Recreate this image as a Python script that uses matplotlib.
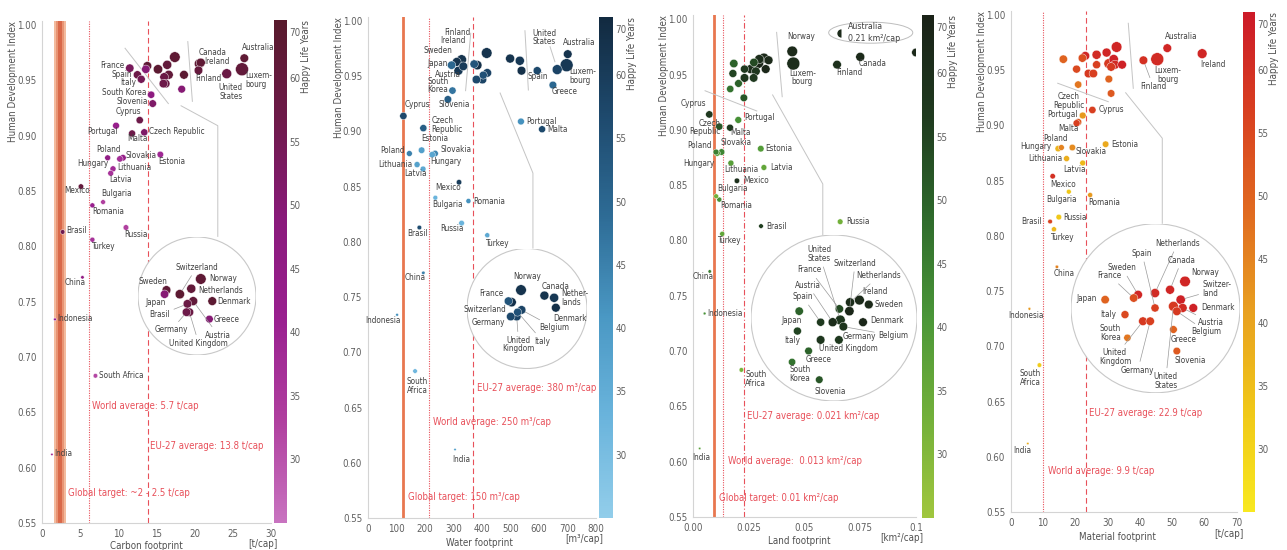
import matplotlib
matplotlib.use('Agg')
import matplotlib.pyplot as plt
import numpy as np
from matplotlib import font_manager
from matplotlib.colors import LinearSegmentedColormap, Normalize
from matplotlib.cm import ScalarMappable
from matplotlib.patches import Circle, Ellipse

W, H = 1287, 550

# narrow font if there is one
fonts = font_manager.fontManager.ttflist
if any(f.name == 'Liberation Sans Narrow' for f in fonts):
    plt.rcParams['font.family'] = 'Liberation Sans Narrow'
elif any(f.name == 'DejaVu Sans' and f.stretch == 'condensed' for f in fonts):
    plt.rcParams['font.family'] = 'DejaVu Sans'
    plt.rcParams['font.stretch'] = 'condensed'
else:
    plt.rcParams['font.family'] = 'Liberation Sans'

# ---- data -------------------------------------------------------------
countries = ['Australia', 'Austria', 'Belgium', 'Brasil', 'Bulgaria', 'Canada', 'China',
             'Cyprus', 'Czech Republic', 'Denmark', 'Estonia', 'Finland', 'France', 'Germany',
             'Greece', 'Hungary', 'India', 'Indonesia', 'Ireland', 'Italy', 'Japan', 'Latvia',
             'Lithuania', 'Luxembourg', 'Malta', 'Mexico', 'Netherlands', 'Norway', 'Poland',
             'Portugal', 'Romania', 'Russia', 'Slovakia', 'Slovenia', 'South Africa',
             'South Korea', 'Spain', 'Sweden', 'Switzerland', 'Turkey', 'United Kingdom',
             'United States']
hdi = [0.970, 0.955, 0.953, 0.813, 0.840, 0.966, 0.772, 0.914, 0.903, 0.955, 0.883, 0.959,
       0.961, 0.947, 0.942, 0.879, 0.612, 0.734, 0.965, 0.951, 0.960, 0.866, 0.870, 0.960,
       0.902, 0.854, 0.964, 0.971, 0.880, 0.909, 0.837, 0.817, 0.880, 0.929, 0.683, 0.937,
       0.955, 0.963, 0.960, 0.806, 0.947, 0.956]
happy_life_years = [62, 61, 58, 56, 33, 62, 45, 57, 52, 63, 39, 60, 54, 57, 50, 37, 38, 42, 62,
                    55, 50, 36, 38, 61, 57, 60, 61, 62, 45, 42, 42, 33, 44, 52, 32, 47, 57, 62,
                    63, 36, 58, 58]
gdp_per_cap = [35, 38, 35, 10, 11, 38, 5.5, 25, 24, 36, 20, 35, 33, 34, 28, 19, 2.7, 3.7, 45,
               30, 33, 16, 17, 79, 23, 14, 39, 53, 16, 22, 12, 15, 20, 27, 9.8, 25, 31, 36, 41,
               12, 35, 46]
carbon = [26.5, 16.6, 16.0, 2.7, 8.0, 20.8, 5.3, 12.8, 13.4, 18.6, 15.5, 20.5, 11.5, 15.9,
          18.3, 10.2, 1.3, 1.7, 20.6, 13.0, 13.6, 9.0, 9.3, 26.2, 11.8, 5.1, 16.4, 17.4, 8.6,
          9.7, 6.6, 11.0, 10.6, 14.5, 7.0, 14.3, 12.5, 13.8, 15.2, 6.6, 16.2, 24.2]
water = [701, 318, 419, 181, 237, 499, 195, 125, 195, 539, 189, 335, 373, 381, 649, 226, 306,
         103, 329, 405, 294, 194, 173, 697, 611, 320, 533, 417, 146, 537, 353, 329, 236, 281,
         166, 297, 594, 312, 384, 419, 402, 664]
land = [0.21, 0.0258, 0.0282, 0.0305, 0.0104, 0.075, 0.0075, 0.0073, 0.0118, 0.0326, 0.0304,
        0.0646, 0.0273, 0.0272, 0.0204, 0.0108, 0.0030, 0.0052, 0.0318, 0.0179, 0.0183, 0.0318,
        0.0170, 0.0450, 0.0166, 0.0197, 0.0297, 0.0445, 0.0103, 0.0203, 0.0118, 0.066, 0.0128,
        0.0228, 0.0217, 0.0167, 0.0231, 0.0339, 0.02955, 0.0131, 0.0231, 0.0275]
material = [48.5, 32.3, 31.1, 12.2, 18.0, 29.7, 14.3, 25.3, 20.9, 34.5, 29.4, 41.1, 22.2, 25.6,
            30.4, 14.7, 5.3, 5.8, 59.3, 20.4, 16.3, 22.3, 17.3, 45.4, 20.4, 13.0, 26.6, 32.8,
            15.7, 22.3, 24.6, 14.9, 19.1, 31.1, 8.9, 20.9, 26.6, 23.1, 31.9, 13.4, 24.1, 30.4]

RED = '#e8505a'
ORANGE = '#e8774f'
LBL = '#404040'
TICK = '#606060'
FS_LBL = 5.9
FS_TICK = 7.0

cmaps = [
    LinearSegmentedColormap.from_list('p', ['#c873c0', '#b0409f', '#9a2090', '#8a1a7c', '#6e1a4a', '#581a2c']),
    LinearSegmentedColormap.from_list('b', ['#92cdea', '#6ab4dc', '#4a98c4', '#2e6c96', '#1e4a6e', '#122a40']),
    LinearSegmentedColormap.from_list('g', ['#a0c63e', '#72b03a', '#4a9638', '#2e6a2c', '#1f3a1f', '#1a2218']),
    LinearSegmentedColormap.from_list('y', ['#f8e820', '#f0c818', '#e8a020', '#e06a20', '#d84020', '#cc1a28']),
]
norm = Normalize(25, 64.6)

# ---- per panel layout ---------------------------------------------------
panels = [
    dict(x=carbon, xmax=30, xticks=[0, 5, 10, 15, 20, 25, 30], xticklabels=None,
         xlabel='Carbon footprint', xlabel_pos=(146, 546), unit='[t/cap]', unit_pos=(278, 544),
         box=(42, 271, 25, 523), cbar=(274, 287, 20, 523),
         band=(1.6, 3.1), target=None, world=6.2, eu=13.9, eu_style=(0, (5, 3)),
         notes=[('World average: 5.7 t/cap', 6.55, 0.656), ('EU-27 average: 13.8 t/cap', 14.15, 0.620),
                ('Global target: ~2 - 2.5 t/cap', 3.41, 0.5767)],
         guides=[[(10.88, 0.979), (16.55, 0.929)], [(19.10, 0.985), (19.70, 0.931)],
                 [(18.22, 0.927), (23.03, 0.909), (23.03, 0.809)]],
         inset=(197, 296, 59, 1.25, 17.0, 0.9587),
         labels=[('France', '', -5.4, 2.5, 'right'), ('Spain', '', -5.7, 0, 'right'),
                 ('Italy', '', -4.5, -3, 'right'), ('South Korea', '', -4.4, 2.4, 'right'),
                 ('Slovenia', '', -5, 2, 'right'), ('Cyprus', '', 1, 9, 'right'),
                 ('Portugal', '', 2, -5.3, 'right'), ('Malta', '', 5.8, -5.2, 'center'),
                 ('Czech Republic', '', 4.8, 0.7, 'left'), ('Estonia', '', -1.6, -7.2, 'left'),
                 ('Poland', '', 0.7, 7.8, 'center'), ('Slovakia', '', 2.1, 1.8, 'left'),
                 ('Hungary', '', -11.5, -4.4, 'right'), ('Lithuania', '', 4.3, 1.2, 'left'),
                 ('Latvia', '', -1.4, -6.7, 'left'), ('Mexico', '', -4.2, -4.4, 'center'),
                 ('Bulgaria', '', -2, 8.8, 'left'), ('Romania', '', 0.3, -6.6, 'left'),
                 ('Russia', '', -1.6, -6.5, 'left'), ('Brasil', '', 4.1, 1.6, 'left'),
                 ('Turkey', '', -1.7, -7, 'left'), ('China', '', 2.9, -5, 'right'),
                 ('Indonesia', '', 2.3, 0.7, 'left'), ('South Africa', '', 3.3, 0.5, 'left'),
                 ('India', '', 2.1, 0.7, 'left'), ('Canada', '', -1.7, 10.3, 'left'),
                 ('Ireland', '', 5.1, 2, 'left'), ('Finland', '', -3.7, -8.3, 'left'),
                 ('United States', 'United\nStates', 4.2, -18.3, 'center'),
                 ('Luxembourg', 'Luxem-\nbourg', 3.1, -10.9, 'left'),
                 ('Australia', '', -2.2, 10.5, 'left')],
         inset_labels=[('Norway', '', 8, 0.7, 'left', False), ('Switzerland', '', 17, 27, 'center', True),
                       ('Sweden', '', 0.7, 9, 'right', False), ('Japan', '', 1.2, -8, 'right', False),
                       ('Netherlands', '', 7, -2, 'left', False), ('Denmark', '', 5, -0.6, 'left', False),
                       ('Greece', '', 4.5, -0.2, 'left', False), ('Belgium', 'Brasil', -17.6, -11, 'right', True),
                       ('Germany', '', -15, -17.8, 'center', True),
                       ('United Kingdom', '', 9.3, -31, 'center', True),
                       ('Austria', '', 25, -34, 'center', True)]),
    dict(x=water, xmax=800, xticks=list(range(0, 801, 100)), xticklabels=None,
         xlabel='Water footprint', xlabel_pos=(479, 543), unit='[m³/cap]', unit_pos=(603, 539),
         box=(367.7, 596, 21, 518), cbar=(599, 613, 17, 518),
         band=None, target=122.6, world=213.7, eu=367.9, eu_style=(0, (5, 3)),
         notes=[('Global target: 150 m³/cap', 140, 0.569), ('World average: 250 m³/cap', 228, 0.6365),
                ('EU-27 average: 380 m³/cap', 382, 0.668)],
         guides=[[(361, 0.9889), (343, 0.9369)], [(551, 0.9912), (563, 0.9375)],
                 [(639, 0.9767), (656, 0.9631)], [(464, 0.9348), (579, 0.8623), (579, 0.7944)]],
         inset=(527, 308.5, 60, 1.0, 438, 0.9543),
         labels=[('Finland', '', 6.7, 34, 'right'), ('Ireland', '', 4, 19.5, 'right'),
                 ('Sweden', '', -4, 11.5, 'right'), ('Japan', '', -4, 2, 'right'),
                 ('Austria', '', 2, -4, 'right'), ('South Korea', 'South\nKorea', -4, 5, 'right'),
                 ('Slovenia', '', -9, -5, 'left'), ('Cyprus', '', 1, 11, 'left'),
                 ('Czech Republic', 'Czech\nRepublic', 8, 3, 'left'), ('Estonia', '', 0, 11.5, 'left'),
                 ('Poland', '', -5, 3, 'right'), ('Slovakia', '', 5, 4, 'left'),
                 ('Hungary', '', -2, -6.5, 'left'), ('Lithuania', '', -5, 0, 'right'),
                 ('Latvia', '', 4, -5, 'right'), ('Mexico', '', 2, -5, 'right'),
                 ('Bulgaria', '', -3, -7, 'left'), ('Romania', '', 5, 0, 'left'),
                 ('Russia', '', 2, -5, 'right'), ('Brasil', '', -2, -6, 'center'),
                 ('Turkey', '', -2, -8, 'left'), ('China', '', 2, -5, 'right'),
                 ('Indonesia', '', 4, -6, 'right'), ('South Africa', 'South\nAfrica', 2, -15, 'center'),
                 ('India', '', 6, -10, 'center'), ('Portugal', '', 5, 0, 'left'),
                 ('Malta', '', 5, 0, 'left'), ('Spain', '', 1, -6, 'center'),
                 ('Greece', '', 12, -6, 'center'), ('Luxembourg', 'Luxem-\nbourg', 3, -11, 'left'),
                 ('United States', 'United\nStates', -13, 32, 'center'),
                 ('Australia', '', -5, 12, 'left')],
         inset_labels=[('Norway', '', 6, 13.3, 'center', False), ('France', '', -4.5, 7.8, 'right', False),
                       ('Switzerland', '', -4.9, -6.8, 'right', False),
                       ('Germany', '', -5.7, -6.2, 'right', False), ('Canada', '', -2.7, 9.5, 'left', False),
                       ('Netherlands', 'Nether-\nlands', 7.6, -0.3, 'left', False),
                       ('Denmark', '', -3, -10.6, 'left', False), ('Belgium', '', 17.7, -17.8, 'left', True),
                       ('Italy', '', 25, -29, 'center', True),
                       ('United Kingdom', 'United\nKingdom', 2, -28, 'center', True)]),
    dict(x=land, xmax=0.1, xticks=[0, 0.025, 0.05, 0.075, 0.1],
         xticklabels=['0.00', '0.025', '0.05', '0.075', '0.1'],
         xlabel='Land footprint', xlabel_pos=(799, 541), unit='[km²/cap]', unit_pos=(923, 538),
         box=(693, 916, 19.3, 517), cbar=(922, 934, 15, 518),
         band=None, target=0.0094, world=0.0136, eu=0.0227, eu_style=(0, (5, 2, 1, 2)),
         notes=[('EU-27 average: 0.021 km²/cap', 0.0240, 0.6416),
                ('World average:  0.013 km²/cap', 0.0158, 0.6010),
                ('Global target: 0.01 km²/cap', 0.0118, 0.5672)],
         guides=[[(0.0054, 0.9354), (0.0286, 0.9171)], [(0.0375, 0.9882), (0.0400, 0.9300)],
                 [(0.0357, 0.9316), (0.0582, 0.8511), (0.0582, 0.8050)]],
         inset=(834, 318, 83, 2.0, 0.0261, 0.9569),
         labels=[('Norway', '', 9, 15, 'center'), ('Luxembourg', 'Luxem-\nbourg', 9, -14, 'center'),
                 ('Finland', '', -1, -8, 'left'), ('Canada', '', -2, -7, 'left'),
                 ('Cyprus', '', -3, 11, 'right'), ('Czech Republic', 'Czech\nRepublic', 1, -1, 'right'),
                 ('Malta', '', 0, -5, 'left'), ('Portugal', '', 6, 2, 'left'),
                 ('Poland', '', -4, 7, 'right'), ('Slovakia', '', -1, 10, 'left'),
                 ('Hungary', '', -3, -10, 'right'), ('Lithuania', '', -7, -6, 'left'),
                 ('Estonia', '', 4, 0, 'left'), ('Latvia', '', 6, 0, 'left'),
                 ('Mexico', '', 6, 0, 'left'), ('Bulgaria', '', 1.5, 8, 'left'),
                 ('Romania', '', 1, -6, 'left'), ('Brasil', '', 5, 0, 'left'),
                 ('Russia', '', 6, 0, 'left'), ('Turkey', '', -5, -7, 'left'),
                 ('China', '', 4, -5, 'right'), ('Indonesia', '', 3, 0, 'left'),
                 ('South Africa', 'South\nAfrica', 4, -9, 'left'), ('India', '', 2, -9, 'center')],
         inset_labels=[('United States', 'United\nStates', -21, 66, 'center', True),
                       ('France', '', -29.5, 39, 'center', True),
                       ('Switzerland', '', 5.7, 48, 'center', True),
                       ('Netherlands', '', 29, 26.6, 'center', True),
                       ('Ireland', '', 2.4, 9, 'left', False), ('Sweden', '', 6, 0, 'left', False),
                       ('Denmark', '', 7, 1.6, 'left', False), ('Belgium', '', 35, -9, 'left', True),
                       ('Germany', '', 4, 3, 'left', False), ('United Kingdom', '', -1.5, -9, 'left', False),
                       ('Austria', '', -24.7, 37, 'center', True), ('Spain', '', -18, 25.6, 'center', True),
                       ('Japan', '', -7.4, -9, 'center', False), ('Italy', '', -5.6, -9, 'center', False),
                       ('Greece', '', 10, -8.4, 'center', False),
                       ('South Korea', 'South\nKorea', 8, -12, 'center', False),
                       ('Slovenia', '', 10.6, -11.3, 'center', False)]),
    dict(x=material, xmax=70, xticks=list(range(0, 71, 10)), xticklabels=None,
         xlabel='Material footprint', xlabel_pos=(1117, 537), unit='[t/cap]', unit_pos=(1244, 534),
         box=(1010.7, 1236.7, 15, 512), cbar=(1243, 1255, 12, 512),
         band=None, target=None, world=10.1, eu=23.2, eu_style=(0, (5, 3)),
         notes=[('EU-27 average: 22.9 t/cap', 24.2, 0.640), ('World average: 9.9 t/cap', 11.4, 0.587)],
         guides=[[(14.56, 0.9382), (30.23, 0.9215)], [(36.42, 0.9925), (37.97, 0.9336)],
                 [(35.61, 0.9296), (46.95, 0.8884), (46.95, 0.8114)]],
         inset=(1155.5, 308.3, 84.5, 1.5, 26.7, 0.9548),
         labels=[('Australia', '', -2, 11.4, 'left'), ('Ireland', '', -1.5, -10.6, 'left'),
                 ('Luxembourg', 'Luxem-\nbourg', 10.7, -15.6, 'center'),
                 ('Finland', '', -3.4, -26, 'left'),
                 ('Czech Republic', 'Czech\nRepublic', -9.4, 21, 'center'),
                 ('Cyprus', '', 6, 0, 'left'), ('Portugal', '', -5.4, 1, 'right'),
                 ('Malta', '', -8, -5, 'center'), ('Poland', '', -5.6, 9, 'center'),
                 ('Hungary', '', -6.5, 2, 'right'), ('Slovakia', '', 3, -3.5, 'left'),
                 ('Lithuania', '', -4, 0, 'right'), ('Latvia', '', -8, -7, 'center'),
                 ('Estonia', '', 6, 0, 'left'), ('Mexico', '', 10, -7.8, 'center'),
                 ('Bulgaria', '', -7, -7.3, 'center'), ('Romania', '', -2, -7.7, 'left'),
                 ('Russia', '', 4, 0, 'left'), ('Brasil', '', -8, 0, 'right'),
                 ('Turkey', '', 8, -8.4, 'center'), ('China', '', 7, -7, 'center'),
                 ('Indonesia', '', -3, -7, 'center'), ('South Africa', 'South\nAfrica', -9, -13, 'center'),
                 ('India', '', -6, -7, 'center')],
         inset_labels=[('Netherlands', '', 22.6, 49.8, 'center', True), ('Spain', '', -13, 54.7, 'center', True),
                       ('Canada', '', 11.7, 29.7, 'center', True), ('Sweden', '', -16, 27, 'center', True),
                       ('France', '', -24, 22.4, 'center', True), ('Norway', '', 6, 9, 'left', False),
                       ('Switzerland', 'Switzer-\nland', 22, 10.5, 'left', True),
                       ('Denmark', '', 8, 0, 'left', False), ('Japan', '', -8, 1.4, 'right', False),
                       ('Italy', '', -8.4, 0, 'right', False),
                       ('South Korea', 'South\nKorea', -6.5, 4.5, 'right', False),
                       ('United Kingdom', 'United\nKingdom', -28, -35.8, 'center', True),
                       ('Germany', '', -12.3, -48.8, 'center', True),
                       ('United States', 'United\nStates', -7.8, -74.5, 'center', True),
                       ('Austria', '', 15.6, -14.7, 'left', True), ('Belgium', '', 14.8, -20.4, 'left', True),
                       ('Greece', '', 10.4, -9.7, 'center', False),
                       ('Slovenia', '', 13.4, -9.7, 'center', False)]),
]


def rect(x0, top, x1, bottom):
    return [x0 / W, 1 - bottom / H, (x1 - x0) / W, (bottom - top) / H]


def label(ax, xy, text, dx, dy, ha, leader=False):
    kw = dict(xy=xy, xytext=(dx, dy), textcoords='offset pixels', ha=ha, va='center',
              fontsize=FS_LBL, color=LBL, linespacing=0.95, zorder=6)
    if leader:
        kw['arrowprops'] = dict(arrowstyle='-', color='#9a9a9a', lw=0.5, shrinkA=1, shrinkB=3)
    ax.annotate(text, **kw)


fig = plt.figure(figsize=(W / 100, H / 100), dpi=100)
fig.patch.set_facecolor('white')

hdi_a = np.array(hdi)
hly_a = np.array(happy_life_years)
size_a = 1.1 * np.array(gdp_per_cap)
order = np.argsort(-size_a)
idx = {c: i for i, c in enumerate(countries)}
YTOP = 1.004

for p, cmap in zip(panels, cmaps):
    x0, x1, y100, y055 = p['box']
    sx = (x1 - x0) / p['xmax']
    sy = (y055 - y100) / 0.45
    top = y100 - (YTOP - 1) * sy
    ax = fig.add_axes(rect(x0, top, x1, y055))
    ax.set_xlim(0, p['xmax'])
    ax.set_ylim(0.55, YTOP)
    for s in ['top', 'right']:
        ax.spines[s].set_visible(False)
    for s in ['left', 'bottom']:
        ax.spines[s].set_color('#d4d4d4')
        ax.spines[s].set_linewidth(0.8)
    ax.set_yticks(np.arange(0.55, 1.001, 0.05))
    ax.set_yticklabels(['%.2f' % v for v in np.arange(0.55, 1.001, 0.05)])
    ax.set_xticks(p['xticks'])
    if p['xticklabels']:
        ax.set_xticklabels(p['xticklabels'])
    ax.tick_params(length=0, labelsize=FS_TICK, colors=TICK, pad=4)

    # reference lines
    if p['band']:
        a, b = p['band']
        w = b - a
        ax.axvspan(a, b, color='#f3bb9e', lw=0, zorder=1)
        ax.axvspan(a + 0.18 * w, b - 0.18 * w, color='#e89474', lw=0, zorder=1)
        ax.axvspan(a + 0.35 * w, b - 0.35 * w, color='#d9694a', lw=0, zorder=1)
    if p['target'] is not None:
        ax.axvline(p['target'], color=ORANGE, lw=2, zorder=1)
    ax.axvline(p['world'], color=RED, lw=0.8, ls=(0, (1, 1.2)), zorder=1)
    ax.axvline(p['eu'], color=RED, lw=0.8, ls=p['eu_style'], zorder=1)
    for t, tx, ty in p['notes']:
        ax.text(tx, ty, t, color=RED, fontsize=6.9, va='center', ha='left', zorder=2)
    for g in p['guides']:
        gx, gy = zip(*g)
        ax.plot(gx, gy, color='#c4c4c4', lw=0.7, zorder=1)

    xs = np.minimum(np.array(p['x']), p['xmax'])
    ax.scatter(xs[order], hdi_a[order], s=size_a[order], c=hly_a[order], cmap=cmap, norm=norm,
               edgecolors='white', linewidths=0.3, zorder=4)

    for c, txt, dx, dy, ha in p['labels']:
        i = idx[c]
        label(ax, (xs[i], hdi[i]), txt or c, dx, dy, ha, leader=(c == 'Finland' and p['xmax'] == 70))

    # Australia call-out in the land panel
    if p['xmax'] == 0.1:
        i = idx['Australia']
        ax.add_patch(Ellipse((0.0797, 0.9879), 0.0377, 0.019, fc='white', ec='#bdbdbd', lw=0.7, zorder=5))
        ax.plot(0.0664, 0.9879, marker='o', ms=6, fillstyle='left',
                color=cmap(norm(happy_life_years[i])), mec='none', zorder=6)
        ax.text(0.0695, 0.9935, 'Australia', fontsize=6.3, color=LBL, va='center', zorder=6)
        ax.text(0.0695, 0.9825, '%.2f km²/cap' % land[i], fontsize=6.3, color=LBL, va='center', zorder=6)

    # axis titles
    fig.text((x0 - 29) / W, 1 - top / H, 'Human Development Index', rotation=90, ha='center',
             va='top', fontsize=7.0, color='#505050')
    fig.text(p['xlabel_pos'][0] / W, 1 - p['xlabel_pos'][1] / H, p['xlabel'], ha='center',
             va='center', fontsize=7.0, color='#505050')
    fig.text(p['unit_pos'][0] / W, 1 - p['unit_pos'][1] / H, p['unit'], ha='right',
             va='center', fontsize=7.0, color='#505050')

    # colour bar
    cx0, cx1, ctop, cbot = p['cbar']
    cax = fig.add_axes(rect(cx0, ctop, cx1, cbot))
    cb = fig.colorbar(ScalarMappable(norm=norm, cmap=cmap), cax=cax)
    cb.outline.set_visible(False)
    cb.set_ticks([30, 35, 40, 45, 50, 55, 60])
    cax.tick_params(length=0, labelsize=FS_TICK, colors=TICK, pad=2)
    cax.text(1.15, 0.985, '70', transform=cax.transAxes, fontsize=FS_TICK, color=TICK, va='top', ha='left')
    fig.text((cx1 + 19) / W, 1 - ctop / H, 'Happy Life Years', rotation=90, ha='center', va='top',
             fontsize=7.0, color='#505050')

    # magnified circle
    icx, icy, r, m, dcx, dcy = p['inset']
    ia = fig.add_axes(rect(icx - r, icy - r, icx + r, icy + r))
    rx, ry = r / (m * sx), r / (m * sy)
    ia.set_xlim(dcx - rx, dcx + rx)
    ia.set_ylim(dcy - ry, dcy + ry)
    ia.axis('off')
    circ = Circle((0.5, 0.5), 0.5, transform=ia.transAxes, fc='white', ec='#c8c8c8', lw=0.8, zorder=0)
    ia.add_patch(circ)
    sel = [idx[c] for c, *_ in p['inset_labels']]
    sel = sorted(sel, key=lambda i: -size_a[i])
    sc = ia.scatter(xs[sel], hdi_a[sel], s=size_a[sel], c=hly_a[sel], cmap=cmap, norm=norm,
                    edgecolors='white', linewidths=0.3, zorder=4)
    sc.set_clip_path(circ)
    for c, txt, dx, dy, ha, lead in p['inset_labels']:
        i = idx[c]
        label(ia, (xs[i], hdi[i]), txt or c, dx, dy, ha, lead)

fig.savefig('out.png', dpi=100, facecolor='white')
